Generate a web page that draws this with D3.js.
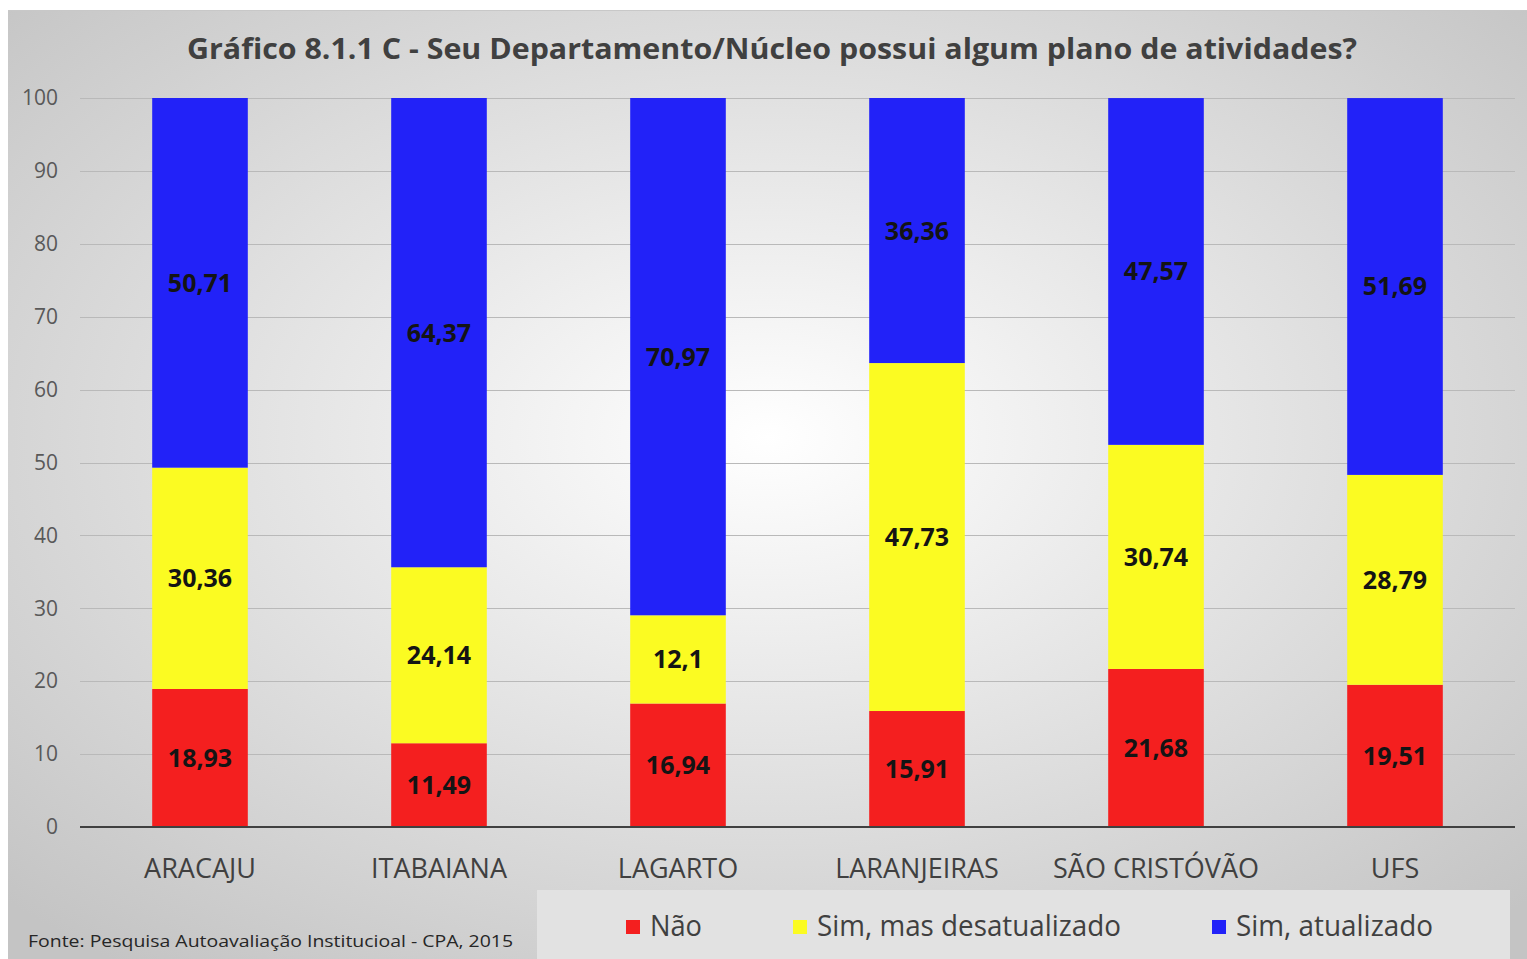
<!DOCTYPE html>
<html>
<head>
<meta charset="utf-8">
<script src="https://cdn.jsdelivr.net/npm/d3@7"></script>
<style>
  body { margin: 0; background: #fff; }
  svg text { font-family: "Liberation Sans Narrow", "Open Sans", sans-serif; }
</style>
</head>
<body>
<svg id="chart" width="1527" height="959"></svg>
<script>
// data
const categories = ["ARACAJU", "ITABAIANA", "LAGARTO", "LARANJEIRAS", "SÃO CRISTÓVÃO", "UFS"];
const seriesNames = ["Não", "Sim, mas desatualizado", "Sim, atualizado"];
const nao = [18.93, 11.49, 16.94, 15.91, 21.68, 19.51];
const simDesatualizado = [30.36, 24.14, 12.1, 47.73, 30.74, 28.79];
const simAtualizado = [50.71, 64.37, 70.97, 36.36, 47.57, 51.69];
const yTicks = [0, 10, 20, 30, 40, 50, 60, 70, 80, 90, 100];
const colors = ["#f41f1f", "#fbfb22", "#2222f8"];

const svg = d3.select("#chart");

//background with radial gradient
const defs = svg.append("defs");
const grad = defs.append("radialGradient")
  .attr("id", "bg")
  .attr("cx", "50%").attr("cy", "45%").attr("r", "70%");
grad.append("stop").attr("offset", "0%").attr("stop-color", "#ffffff");
grad.append("stop").attr("offset", "100%").attr("stop-color", "#c4c4c4");

svg.append("rect")
  .attr("x", 8).attr("y", 10)
  .attr("width", 1519).attr("height", 949)
  .attr("fill", "url(#bg)");
svg.append("line")
  .attr("x1", 8).attr("x2", 1527).attr("y1", 10.5).attr("y2", 10.5)
  .attr("stroke", "#c8c8c8");

//scales
const x = d3.scaleBand()
  .domain(categories)
  .range([80.5, 1514.5])
  .paddingInner(0.6)
  .paddingOuter(0.3);

const y = d3.scaleLinear()
  .domain([0, 100])
  .range([827, 98]);

//gridlines
svg.append("g")
  .selectAll("line")
  .data(yTicks.filter(t => t > 0))
  .join("line")
  .attr("x1", 80).attr("x2", 1515)
  .attr("y1", d => Math.round(y(d)) + 0.5)
  .attr("y2", d => Math.round(y(d)) + 0.5)
  .attr("stroke", "#b9b9b9")
  .attr("stroke-width", 1);

//y axis labels
const yAxis = svg.append("g")
  .attr("transform", "translate(58,0)")
  .call(d3.axisLeft(y).tickValues(yTicks).tickSize(0).tickPadding(0));
yAxis.select(".domain").remove();
yAxis.selectAll("text")
  .attr("fill", "#595959")
  .style("font-size", "21px")
  .style("font-family", "\"Open Sans\", sans-serif")
  .attr("textLength", d => d === 100 ? 36 : (d === 0 ? 12 : 24))
  .attr("lengthAdjust", "spacingAndGlyphs");

//stack
const rows = categories.map((c, i) => ({
  cat: c, nao: nao[i], des: simDesatualizado[i], atu: simAtualizado[i]
}));
const keys = ["nao", "des", "atu"];
const stacked = d3.stack().keys(keys)(rows);

const layers = svg.append("g")
  .selectAll("g")
  .data(stacked)
  .join("g")
  .attr("fill", (d, i) => colors[i]);

layers.selectAll("rect")
  .data(d => d)
  .join("rect")
  .attr("x", d => x(d.data.cat))
  .attr("width", x.bandwidth())
  .attr("y", d => y(Math.min(d[1], 100)))
  .attr("height", d => y(d[0]) - y(Math.min(d[1], 100)));

//value labels
layers.selectAll("text")
  .data((d, i) => d.map(v => ({v: v, key: keys[i]})))
  .join("text")
  .attr("x", d => x(d.v.data.cat) + x.bandwidth() / 2)
  .attr("y", d => y((d.v[0] + d.v[1]) / 2))
  .attr("dy", "0.36em")
  .attr("text-anchor", "middle")
  .attr("fill", "#141414")
  .style("font-family", "\"Open Sans\", sans-serif")
  .style("font-weight", "bold")
  .style("font-size", "25px")
  .text(d => String(d.v.data[d.key]).replace(".", ","));

//x axis line
svg.append("line")
  .attr("x1", 80).attr("x2", 1515)
  .attr("y1", 827).attr("y2", 827)
  .attr("stroke", "#404040")
  .attr("stroke-width", 2);

//category labels
svg.append("g")
  .selectAll("text")
  .data(categories)
  .join("text")
  .attr("x", d => x(d) + x.bandwidth() / 2)
  .attr("y", 878)
  .attr("text-anchor", "middle")
  .attr("fill", "#404040")
  .style("font-size", "27px")
  .text(d => d);

//title
svg.append("text")
  .attr("x", 772)
  .attr("y", 59)
  .attr("text-anchor", "middle")
  .attr("fill", "#404040")
  .style("font-family", "\"Open Sans\", sans-serif")
  .style("font-weight", "bold")
  .style("font-size", "29px")
  .attr("textLength", 1170)
  .attr("lengthAdjust", "spacingAndGlyphs")
  .text("Gráfico 8.1.1 C - Seu Departamento/Núcleo possui algum plano de atividades?");

//legend
svg.append("rect")
  .attr("x", 537).attr("y", 890)
  .attr("width", 973).attr("height", 69)
  .attr("fill", "#e2e2e2");

const legendX = [626, 793, 1212];
const legendW = [52, 304, 197];
const legend = svg.append("g")
  .selectAll("g")
  .data(seriesNames)
  .join("g")
  .attr("transform", (d, i) => `translate(${legendX[i]},0)`);
legend.append("rect")
  .attr("x", 0).attr("y", 920)
  .attr("width", 14).attr("height", 14)
  .attr("fill", (d, i) => colors[i]);
legend.append("text")
  .attr("x", 24).attr("y", 936)
  .attr("fill", "#404040")
  .style("font-size", "29px")
  .attr("textLength", (d, i) => legendW[i])
  .attr("lengthAdjust", "spacingAndGlyphs")
  .text(d => d);

//source
svg.append("text")
  .attr("x", 28).attr("y", 947)
  .attr("fill", "#262626")
  .style("font-family", "\"Open Sans\", sans-serif")
  .style("font-size", "16px")
  .attr("textLength", 485)
  .attr("lengthAdjust", "spacingAndGlyphs")
  .text("Fonte: Pesquisa Autoavaliação Institucioal - CPA, 2015");
</script>
</body>
</html>
